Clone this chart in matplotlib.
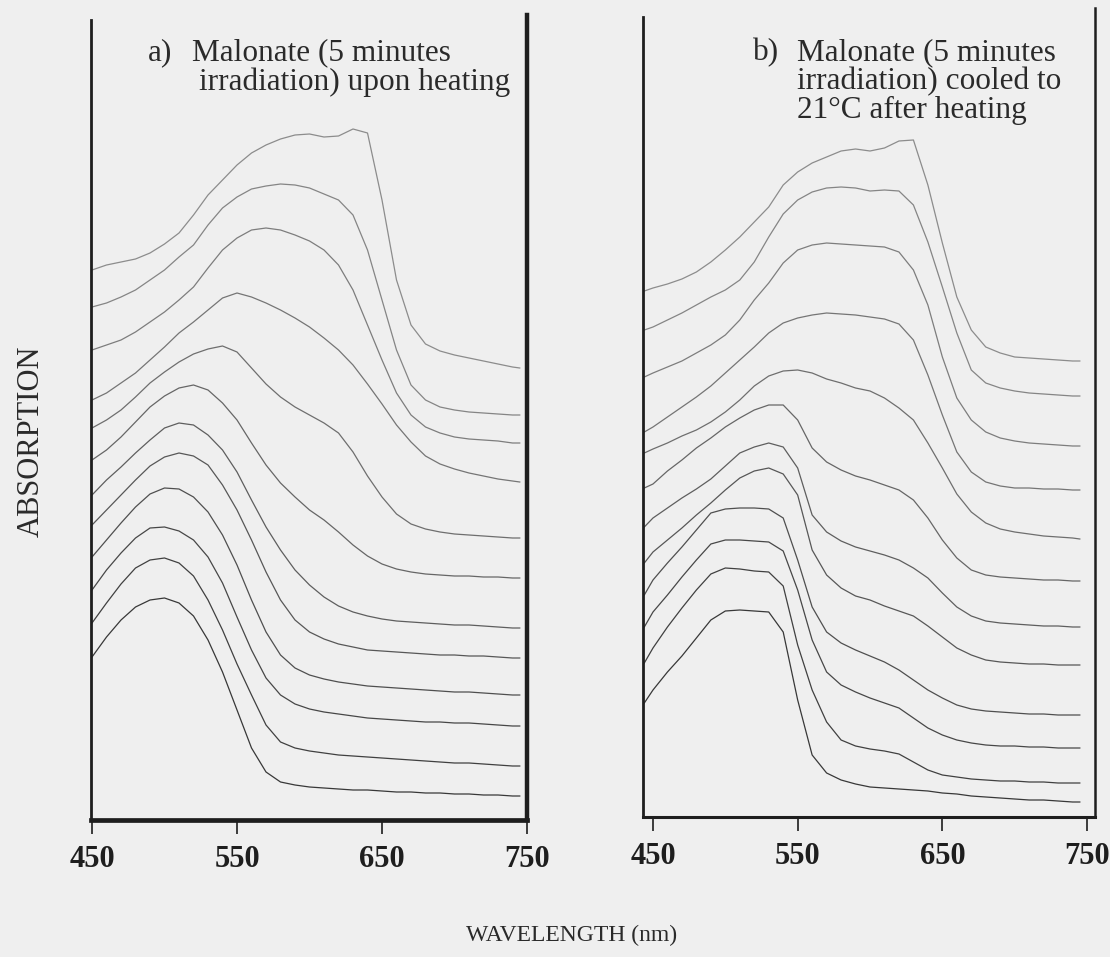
import numpy as np
import matplotlib
matplotlib.use('Agg')
import matplotlib.pyplot as plt

plt.rcParams['font.family'] = ['Liberation Serif', 'DejaVu Serif']

# wavelengths the traces were read at (nm)
wavelength_a = [450, 460, 470, 480, 490, 500, 510, 520, 530, 540, 550, 560, 570, 580, 590,
                600, 610, 620, 630, 640, 650, 660, 670, 680, 690, 700, 710, 720, 730, 740, 745]
wavelength_b = [444] + wavelength_a

# a) heating series - stacked traces, arbitrary absorption units, top trace first
heating = [
    [550, 555, 558, 561, 567, 576, 587, 605, 625, 640, 655, 667, 675, 681, 685, 686, 683, 684, 691, 687, 620, 540, 495, 476, 469, 465, 462, 459, 456, 453, 452],
    [513, 517, 523, 530, 540, 550, 563, 575, 595, 612, 623, 631, 634, 636, 635, 632, 626, 620, 605, 570, 520, 470, 435, 420, 413, 410, 408, 407, 406, 405, 405],
    [470, 475, 480, 488, 498, 508, 520, 533, 552, 570, 582, 590, 592, 590, 585, 579, 570, 555, 530, 495, 460, 427, 405, 393, 387, 383, 381, 380, 379, 377, 377],
    [420, 427, 437, 447, 460, 473, 487, 498, 510, 522, 527, 523, 517, 510, 502, 493, 482, 470, 455, 436, 416, 395, 378, 364, 356, 351, 347, 344, 341, 339, 338],
    [392, 400, 410, 423, 437, 448, 458, 466, 471, 474, 468, 452, 436, 423, 413, 405, 397, 387, 368, 344, 323, 306, 296, 291, 288, 286, 285, 284, 283, 282, 282],
    [360, 370, 383, 398, 413, 424, 432, 435, 430, 417, 400, 377, 355, 337, 323, 310, 300, 288, 275, 264, 256, 251, 248, 246, 245, 244, 244, 243, 243, 242, 242],
    [325, 340, 353, 367, 380, 392, 397, 395, 385, 370, 348, 320, 293, 270, 250, 235, 223, 214, 208, 204, 201, 199, 198, 197, 196, 195, 195, 194, 193, 192, 192],
    [295, 310, 325, 340, 354, 363, 367, 364, 355, 335, 310, 280, 248, 220, 200, 188, 181, 176, 173, 170, 169, 168, 167, 166, 165, 165, 164, 164, 163, 162, 162],
    [263, 280, 297, 313, 326, 332, 331, 323, 308, 285, 255, 220, 188, 165, 152, 145, 141, 138, 136, 134, 133, 132, 131, 130, 129, 128, 128, 127, 126, 125, 125],
    [230, 250, 267, 282, 292, 293, 289, 280, 263, 237, 203, 170, 142, 125, 116, 111, 108, 106, 104, 102, 101, 100, 99, 98, 98, 97, 97, 96, 95, 94, 94],
    [197, 217, 236, 252, 260, 262, 257, 244, 220, 190, 156, 125, 95, 78, 72, 69, 67, 65, 64, 63, 62, 61, 60, 59, 58, 57, 57, 56, 55, 54, 54],
    [163, 183, 200, 213, 220, 222, 217, 204, 180, 148, 110, 72, 48, 38, 35, 33, 32, 31, 30, 30, 29, 28, 28, 27, 27, 26, 26, 25, 25, 24, 24],
]

# b) cooled to 21 C after heating - same units, top trace first
cooled = [
    [526, 529, 533, 538, 545, 555, 567, 580, 595, 610, 632, 645, 654, 660, 666, 668, 666, 669, 676, 677, 632, 574, 520, 487, 470, 464, 460, 459, 458, 457, 456, 456],
    [487, 490, 497, 504, 512, 520, 527, 537, 555, 580, 603, 617, 625, 629, 630, 629, 626, 627, 626, 612, 575, 530, 484, 447, 434, 429, 426, 424, 423, 422, 421, 421],
    [440, 444, 450, 456, 464, 472, 482, 497, 517, 534, 554, 567, 572, 574, 573, 572, 571, 570, 565, 547, 512, 460, 419, 397, 385, 379, 376, 374, 373, 372, 371, 371],
    [385, 390, 400, 410, 420, 431, 444, 457, 470, 484, 494, 499, 502, 504, 503, 502, 500, 498, 493, 477, 442, 402, 365, 345, 335, 331, 329, 329, 328, 328, 327, 327],
    [364, 368, 374, 381, 387, 395, 405, 417, 431, 441, 446, 447, 444, 438, 434, 429, 426, 419, 409, 397, 374, 349, 323, 305, 294, 288, 285, 283, 281, 280, 279, 278],
    [329, 333, 346, 357, 369, 379, 390, 399, 407, 412, 412, 397, 369, 355, 347, 341, 337, 332, 327, 317, 299, 277, 259, 247, 242, 240, 239, 238, 237, 237, 236, 236],
    [290, 299, 309, 319, 328, 338, 351, 364, 370, 374, 370, 349, 302, 285, 276, 270, 266, 262, 257, 249, 239, 224, 210, 201, 196, 194, 193, 192, 191, 191, 190, 190],
    [254, 265, 277, 289, 302, 314, 327, 339, 346, 349, 343, 322, 267, 242, 229, 221, 217, 211, 206, 201, 191, 180, 169, 162, 157, 155, 154, 153, 153, 152, 152, 152],
    [222, 237, 254, 270, 287, 304, 308, 309, 309, 308, 299, 257, 210, 185, 174, 167, 161, 155, 147, 137, 127, 119, 112, 108, 106, 105, 104, 103, 103, 102, 102, 102],
    [190, 205, 222, 240, 257, 273, 277, 277, 276, 275, 266, 227, 177, 145, 132, 125, 119, 114, 109, 99, 89, 82, 77, 74, 72, 71, 71, 70, 70, 69, 69, 69],
    [154, 169, 190, 209, 227, 243, 249, 248, 246, 245, 231, 172, 127, 95, 77, 71, 68, 66, 63, 55, 47, 42, 40, 38, 37, 36, 36, 35, 35, 34, 34, 34],
    [114, 127, 145, 161, 179, 197, 206, 207, 206, 205, 185, 117, 62, 44, 37, 33, 30, 29, 28, 27, 26, 24, 23, 21, 20, 19, 18, 17, 17, 16, 15, 15],
]

ticks = [450, 550, 650, 750]
title_a = ['a)', 'Malonate (5 minutes', 'irradiation) upon heating']
title_b = ['b)', 'Malonate (5 minutes', 'irradiation) cooled to', '21\u00b0C after heating']

W, H = 1110, 957
BG = '#efefef'
INK = '#1e1e1e'

fig = plt.figure(figsize=(W / 100, H / 100), dpi=100, facecolor=BG)


def box(left, top, right, bottom):
    # pixel box -> figure fraction
    return [left / W, 1 - bottom / H, (right - left) / W, (bottom - top) / H]


ax_a = fig.add_axes(box(91, 15, 527, 820))
ax_b = fig.add_axes(box(643, 8, 1095, 817))

ax_a.set_xlim(449.3, 750)
ax_a.set_ylim(0, 805)
ax_b.set_xlim(443.1, 755.5)
ax_b.set_ylim(0, 809)

for ax, wl, traces in [(ax_a, wavelength_a, heating), (ax_b, wavelength_b, cooled)]:
    ax.set_facecolor(BG)
    shades = np.linspace(0.55, 0.22, len(traces))
    for tr, s in zip(traces, shades):
        ax.plot(wl, tr, color=str(round(s, 3)), lw=0.9, solid_joinstyle='round')
    ax.spines['top'].set_visible(False)
    for side in ['left', 'right', 'bottom']:
        ax.spines[side].set_color(INK)
    ax.set_yticks([])
    ax.set_xticks(ticks, labels=[str(t) for t in ticks], fontsize=22, fontweight='bold')
    ax.tick_params(axis='x', direction='out', length=10, width=1.2, pad=8, colors=INK)

ax_a.spines['left'].set_linewidth(2.0)
ax_a.spines['left'].set_bounds(0, 800)
ax_a.spines['right'].set_linewidth(3.2)
ax_a.spines['bottom'].set_linewidth(3.4)
ax_b.spines['left'].set_linewidth(2.0)
ax_b.spines['left'].set_bounds(0, 800)
ax_b.spines['right'].set_linewidth(1.8)
ax_b.spines['bottom'].set_linewidth(2.2)

# panel notes
txt = dict(fontsize=22.5, color='#2a2a2a', va='baseline')
fig.text(148 / W, 1 - 60 / H, title_a[0], **txt)
fig.text(192 / W, 1 - 60 / H, title_a[1], **txt)
fig.text(199 / W, 1 - 90 / H, title_a[2], **txt)
fig.text(753 / W, 1 - 60 / H, title_b[0], **txt)
fig.text(797 / W, 1 - 60 / H, title_b[1], **txt)
fig.text(797 / W, 1 - 89 / H, title_b[2], **txt)
fig.text(797 / W, 1 - 118 / H, title_b[3], **txt)

fig.text(31 / W, 1 - 441 / H, 'ABSORPTION', rotation=90, ha='center', va='center',
         fontsize=22, color='#2a2a2a')
fig.text(572 / W, 1 - 935 / H, 'WAVELENGTH (nm)', ha='center', va='center',
         fontsize=17, color='#2a2a2a')

fig.savefig('out.png', dpi=100, facecolor=BG)
